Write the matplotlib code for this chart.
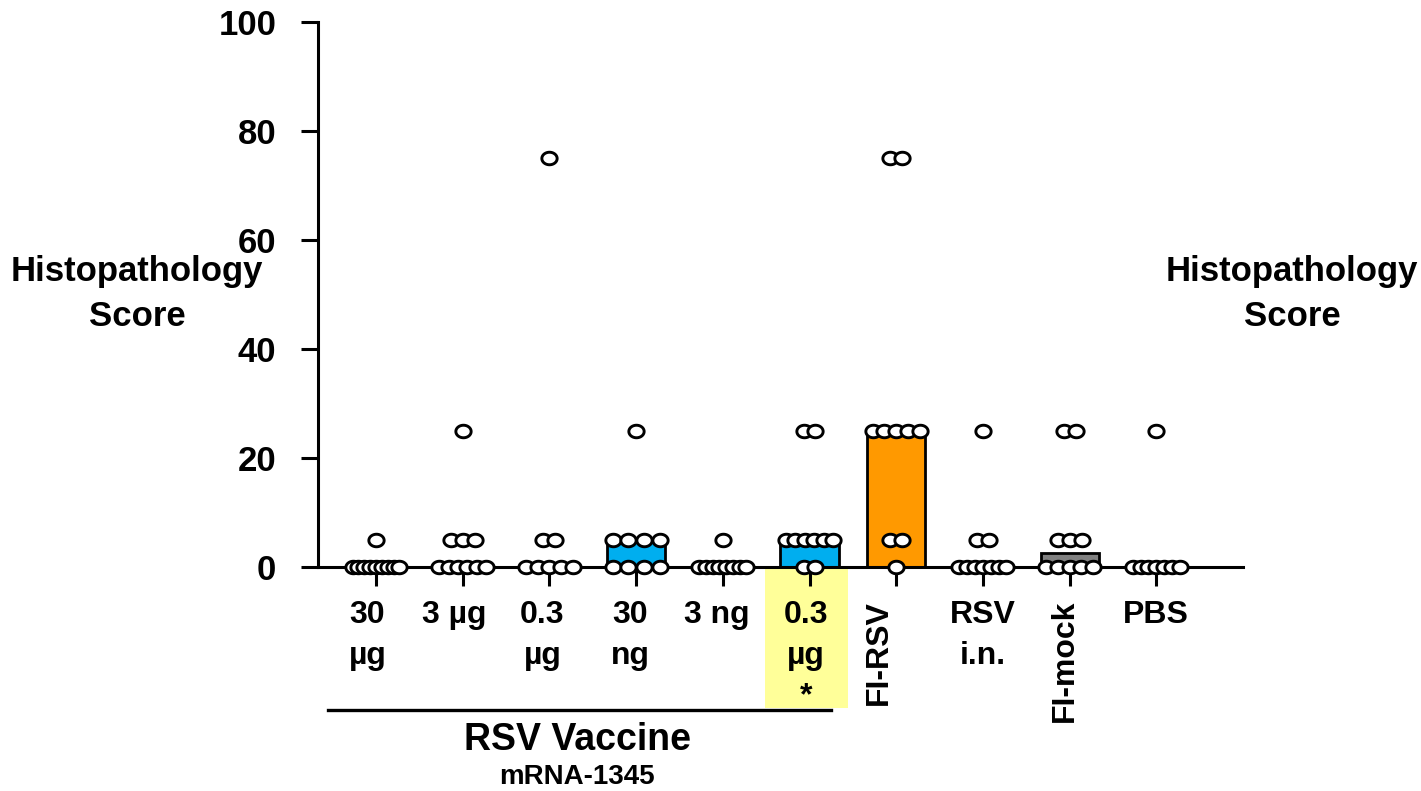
import numpy as np
import matplotlib

matplotlib.use("Agg")
import matplotlib.pyplot as plt
from matplotlib.path import Path
from matplotlib.patches import Rectangle
from matplotlib.transforms import blended_transform_factory

plt.rcParams["font.family"] = ["Liberation Sans", "DejaVu Sans"]
plt.rcParams["font.weight"] = "bold"

# group labels and individual histopathology scores
labels = ["30\nµg", "3 µg", "0.3\nµg", "30\nng", "3 ng", "0.3\nµg\n*",
          "FI-RSV", "RSV\ni.n.", "FI-mock", "PBS"]
rotated = [False, False, False, False, False, False, True, False, True, False]
scores = [
    [0, 0, 0, 0, 0, 0, 0, 0, 0, 5],
    [0, 0, 0, 0, 0, 0, 5, 5, 5, 25],
    [0, 0, 0, 0, 0, 5, 5, 75],
    [0, 0, 0, 0, 5, 5, 5, 5, 25],
    [0, 0, 0, 0, 0, 0, 0, 0, 5],
    [0, 0, 5, 5, 5, 5, 5, 5, 25, 25],
    [0, 5, 5, 25, 25, 25, 25, 25, 75, 75],
    [0, 0, 0, 0, 0, 0, 0, 5, 5, 25],
    [0, 0, 0, 0, 0, 5, 5, 5, 25, 25],
    [0, 0, 0, 0, 0, 0, 0, 25],
]
bar_colors = ["#00AEEF"] * 6 + ["#FF9900", "white", "#808080", "white"]
highlight_group = 5
vaccine_groups = 6

# small horizontal nudges of the group labels (data units)
label_shift = [-0.1, -0.1, -0.08, -0.07, -0.07, -0.04, -0.2, 0.0, -0.05, 0.0]

# slightly flattened circle marker, like the original
t = np.linspace(0, 2 * np.pi, 60)
ellipse = Path(np.column_stack([np.cos(t), 0.82 * np.sin(t)]), closed=True)


def offsets(n):
    if n <= 3:
        return (np.arange(n) - (n - 1) / 2) * 0.138
    return np.linspace(-0.27, 0.27, n)


fig = plt.figure(figsize=(14.21, 7.91), dpi=100)
ax = fig.add_axes([318 / 1421, 1 - 567 / 791, 925 / 1421, 545 / 791])

x = np.arange(len(labels))
medians = [np.median(s) for s in scores]
ax.bar(x, medians, width=0.67, color=bar_colors, edgecolor="black",
       linewidth=2.0, zorder=2)

for i, s in enumerate(scores):
    s = np.array(s)
    for v in np.unique(s):
        n = int(np.sum(s == v))
        ax.plot(i + offsets(n), [v] * n, linestyle="none", marker=ellipse,
                markersize=11, markerfacecolor="white", markeredgecolor="black",
                markeredgewidth=2.1, clip_on=False, zorder=5)

ax.set_xlim(-0.669, 10.0)
ax.set_ylim(0, 100)
ax.set_yticks(np.arange(0, 101, 20))
ax.set_xticks(x)
ax.set_xticklabels([])
ax.tick_params(axis="y", length=12, width=2.2, labelsize=25, pad=18)
ax.tick_params(axis="x", length=14, width=2.2)
for side in ("top", "right"):
    ax.spines[side].set_visible(False)
for side in ("left", "bottom"):
    ax.spines[side].set_linewidth(2.2)
for lab in ax.get_yticklabels():
    lab.set_fontweight("bold")

trans = blended_transform_factory(ax.transData, ax.transAxes)
for i, lab in enumerate(labels):
    if rotated[i]:
        ax.text(i + label_shift[i], -0.06, lab, transform=trans, rotation=90,
                ha="center", va="top", fontsize=23, fontweight="bold")
    else:
        ax.text(i + label_shift[i], -0.061, lab, transform=trans, ha="center",
                va="top", fontsize=23, fontweight="bold", linespacing=1.45)

# yellow highlight behind the significant group
ax.add_patch(Rectangle((highlight_group - 0.51, -0.259), 0.95, 0.256,
                       transform=trans, facecolor="#FFFF99", edgecolor="none",
                       clip_on=False, zorder=0.5))

# bracket line under the vaccine groups
ax.plot([-0.55, vaccine_groups - 0.75], [-0.262, -0.262], color="black",
        linewidth=2.4, transform=trans, clip_on=False)

fig.text(577 / 1421, 1 - 740 / 791, "RSV Vaccine", ha="center", va="center",
         fontsize=27, fontweight="bold")
fig.text(577 / 1421, 1 - 777 / 791, "mRNA-1345", ha="center", va="center",
         fontsize=20, fontweight="bold")

for xc in (137, 1292):
    fig.text(xc / 1421, 1 - 294 / 791, "Histopathology\nScore", ha="center",
             va="center", fontsize=25, fontweight="bold", linespacing=1.45)

fig.savefig("out.png", dpi=100)
